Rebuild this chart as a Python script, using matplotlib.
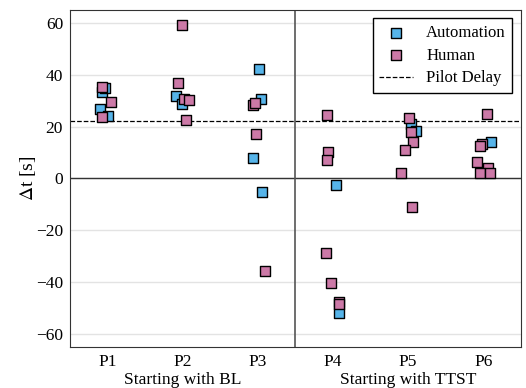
import numpy as np
from matplotlib import pyplot as plt
from matplotlib.transforms import blended_transform_factory

plt.rcParams['font.family'] = ['Liberation Serif', 'DejaVu Serif']
plt.rcParams['mathtext.fontset'] = 'stix'

participants = ['P1', 'P2', 'P3', 'P4', 'P5', 'P6']
group_labels = ['Starting with BL', 'Starting with TTST']
pilot_delay = 22.3

# values [s] and horizontal jitter
auto_vals = [[33.2, 34.9, 27.0, 24.0],
             [31.7, 28.7],
             [42.2, 30.8, 7.8, -5.3],
             [-2.7, -51.9],
             [21.0, 18.5],
             [14.1]]
auto_jit = [[-0.08, -0.03, -0.10, 0.00],
            [-0.09, -0.01],
            [0.01, 0.04, -0.07, 0.06],
            [0.04, 0.08],
            [0.04, 0.11],
            [0.10]]
human_vals = [[35.3, 29.7, 23.7],
              [59.2, 36.9, 30.8, 30.3, 22.4],
              [28.3, 29.3, 17.1, -35.9],
              [24.6, 10.3, 7.3, -28.6, -40.4, -47.5, -48.3],
              [23.3, 17.8, 14.0, 10.9, 2.3, -10.9],
              [24.9, 13.3, 12.4, 6.3, 4.1, 2.3, 2.3]]
human_jit = [[-0.07, 0.04, -0.07],
             [-0.01, -0.06, 0.02, 0.08, 0.04],
             [-0.06, -0.04, -0.02, 0.09],
             [-0.08, -0.07, -0.08, -0.09, -0.02, 0.08, 0.08],
             [0.01, 0.04, 0.07, -0.04, -0.09, 0.05],
             [0.05, -0.01, -0.04, -0.08, 0.06, -0.04, 0.09]]

c_auto = '#56B4E9'
c_human = '#CC79A7'

fig = plt.figure(figsize=(5.26, 3.88), dpi=100)
ax = fig.add_axes([0.133, 0.106, 0.857, 0.868])

for i in range(len(participants)):
    ax.scatter(i + np.array(auto_jit[i]), auto_vals[i], marker='s', s=60,
               color=c_auto, edgecolor='black', linewidth=1.0, zorder=3,
               label='Automation' if i == 0 else None)
    ax.scatter(i + np.array(human_jit[i]), human_vals[i], marker='s', s=60,
               color=c_human, edgecolor='black', linewidth=1.0, zorder=3,
               label='Human' if i == 0 else None)

ax.axhline(pilot_delay, color='black', linestyle='--', linewidth=0.9, label='Pilot Delay', zorder=2)
ax.axhline(0, color='#333333', linewidth=1.0, zorder=1)
ax.axvline(2.5, color='#555555', linewidth=1.2, zorder=1)

ax.set_xlim(-0.5, 5.5)
ax.set_ylim(-65, 65)
ax.set_yticks([-60, -40, -20, 0, 20, 40, 60])
ax.set_xticks(range(len(participants)))
ax.set_xticklabels(participants)
ax.tick_params(length=0, labelsize=12.5, pad=5)
ax.grid(axis='y', color='#e3e3e3', linewidth=1.0, zorder=0)
ax.set_axisbelow(True)
for sp in ax.spines.values():
    sp.set_color('#333333')
ax.set_ylabel(r'$\Delta$t [s]', fontsize=14)
ax.yaxis.set_label_coords(-0.072, 0.5)

trans = blended_transform_factory(ax.transData, ax.transAxes)
ax.text(1.0, -0.097, group_labels[0], transform=trans, ha='center', va='center', fontsize=12.5)
ax.text(4.0, -0.097, group_labels[1], transform=trans, ha='center', va='center', fontsize=12.5)

leg = ax.legend(loc='upper right', fontsize=12, fancybox=False, framealpha=1,
                edgecolor='black', handlelength=2.0, borderpad=0.4,
                labelspacing=0.4)
leg.get_frame().set_linewidth(1.0)

fig.savefig('out.png', dpi=100)
